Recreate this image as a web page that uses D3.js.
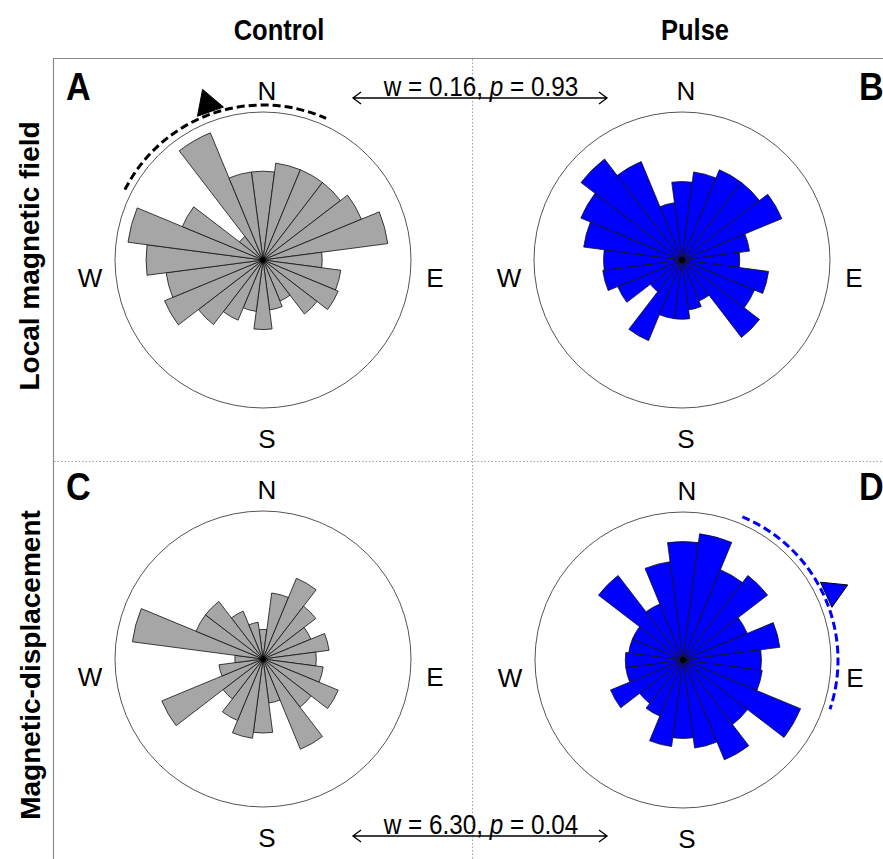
<!DOCTYPE html>
<html>
<head>
<meta charset="utf-8">
<script src="https://d3js.org/d3.v7.min.js"></script>
<style>
  body { margin: 0; background: #fff; }
  text { fill: #000; }
</style>
</head>
<body>
<script>
// ---- data ----
// bin centres in degrees, clockwise from north (15 degree bins)
var binAngles = [0, 15, 30, 45, 60, 75, 90, 105, 120, 135, 150, 165,
                 180, 195, 210, 225, 240, 255, 270, 285, 300, 315, 330, 345];

// bar lengths (% of the outer circle radius), one per bin
var controlLocal = [60, 66, 66, 66, 72, 85, 40, 53, 55, 46, 30, 34,
                    47, 35, 44, 55, 72, 66, 79, 92, 59, 20, 93, 60];
var pulseLocal   = [53, 60, 66, 66, 73, 46, 39, 59, 53, 66, 30, 34,
                    40, 40, 59, 27, 47, 54, 53, 67, 74, 86, 72, 39];
var controlDisp  = [20, 45, 59, 45, 35, 45, 36, 41, 55, 41, 66, 30,
                    50, 54, 45, 34, 74, 30, 19, 89, 49, 49, 35, 25];
var pulseDisp    = [80, 86, 66, 72, 47, 66, 53, 54, 86, 55, 73, 60,
                    53, 59, 41, 37, 53, 39, 39, 37, 37, 72, 41, 67];

var columnTitles = ["Control", "Pulse"];
var rowTitles = ["Local magnetic field", "Magnetic-displacement"];
var panelLetters = ["A", "B", "C", "D"];
var compass = ["N", "E", "S", "W"];

// mean heading and 95% confidence interval half width (degrees), null = not significant
var meanHeading = [340.5, null, null, 65.5];
var ciHalf = [43.5, null, null, 43];

var statW = ["0.16", "6.30"];
var statP = ["0.93", "0.04"];

// ---- layout ----
var width = 883, height = 859;
var R = 148;
var grey = "#a6a6a6", blue = "#0000ff";

var panels = [
  {values: controlLocal, cx: 263, cy: 260, fill: grey, letter: panelLetters[0], lx: 66, ly: 100, mean: meanHeading[0], ci: ciHalf[0], mark: "#000"},
  {values: pulseLocal,   cx: 682, cy: 260, fill: blue, letter: panelLetters[1], lx: 859, ly: 100, mean: meanHeading[1], ci: ciHalf[1], mark: blue},
  {values: controlDisp,  cx: 263, cy: 659, fill: grey, letter: panelLetters[2], lx: 66, ly: 500, mean: meanHeading[2], ci: ciHalf[2], mark: "#000"},
  {values: pulseDisp,    cx: 683, cy: 660, fill: blue, letter: panelLetters[3], lx: 859, ly: 500, mean: meanHeading[3], ci: ciHalf[3], mark: blue}
];

var svg = d3.select("body").append("svg")
  .attr("width", width)
  .attr("height", height)
  .style("font-family", "'Liberation Sans', Arial, sans-serif");

// frame and dotted separators
svg.append("path")
  .attr("d", "M883,58.5H53.5V859")
  .attr("fill", "none")
  .attr("stroke", "#8c8c8c")
  .attr("stroke-width", 1.2);
svg.append("line")
  .attr("x1", 472.5).attr("x2", 472.5).attr("y1", 59).attr("y2", height)
  .attr("stroke", "#a0a0a0").attr("stroke-dasharray", "1.5,2");
svg.append("line")
  .attr("x1", 54).attr("x2", width).attr("y1", 461.5).attr("y2", 461.5)
  .attr("stroke", "#a0a0a0").attr("stroke-dasharray", "1.5,2");

// column and row titles (squeezed a little to look like the condensed original)
svg.selectAll(".coltitle")
  .data(columnTitles)
  .enter().append("text")
  .attr("class", "coltitle")
  .attr("transform", function(d, i) {
    return "translate(" + (i == 0 ? 279 : 695) + ",40) scale(0.88,1)";
  })
  .attr("text-anchor", "middle")
  .style("font-weight", "bold")
  .style("font-size", "29px")
  .text(function(d) { return d; });

svg.selectAll(".rowtitle")
  .data(rowTitles)
  .enter().append("text")
  .attr("class", "rowtitle")
  .attr("transform", function(d, i) {
    return i == 0 ? "translate(39,256) rotate(-90)" : "translate(40,665) rotate(-90)";
  })
  .attr("text-anchor", "middle")
  .style("font-weight", "bold")
  .style("font-size", function(d, i) { return i == 0 ? "28px" : "28px"; })
  .text(function(d) { return d; });

var rScale = d3.scaleLinear().domain([0, 100]).range([0, R]);
var half = 7.5 * Math.PI / 180;
var rad = function(deg) { return deg * Math.PI / 180; };

var arc = d3.arc()
  .innerRadius(0)
  .outerRadius(function(d) { return rScale(d.v); })
  .startAngle(function(d) { return rad(d.a) - half; })
  .endAngle(function(d) { return rad(d.a) + half; });

panels.forEach(function(p) {
  var g = svg.append("g").attr("transform", "translate(" + p.cx + "," + p.cy + ")");

  g.append("circle")
    .attr("r", R)
    .attr("fill", "none")
    .attr("stroke", "#555")
    .attr("stroke-width", 1);

  var bins = binAngles.map(function(a, i) { return {a: a, v: p.values[i]}; });
  g.selectAll("path.bar")
    .data(bins)
    .enter().append("path")
    .attr("class", "bar")
    .attr("d", arc)
    .attr("fill", p.fill)
    .attr("stroke", "#111")
    .attr("stroke-width", 0.8)
    .attr("stroke-linejoin", "round");

  g.append("circle").attr("r", 3).attr("fill", "#000");

  // compass labels
  var pos = {N: [4, -160], E: [172, 27], S: [4, 188], W: [-173, 27]};
  g.selectAll("text.cmp")
    .data(compass)
    .enter().append("text")
    .attr("class", "cmp")
    .attr("x", function(d) { return pos[d][0]; })
    .attr("y", function(d) { return pos[d][1]; })
    .attr("text-anchor", "middle")
    .style("font-size", "26px")
    .text(function(d) { return d; });

  // mean vector with confidence arc
  if (p.mean !== null) {
    var ra = 155;
    var ci = d3.path();
    ci.arc(0, 0, ra, rad(p.mean - p.ci - 90), rad(p.mean + p.ci - 90));
    g.append("path")
      .attr("d", ci.toString())
      .attr("fill", "none")
      .attr("stroke", p.mark)
      .attr("stroke-width", 3)
      .attr("stroke-dasharray", "8,4");

    var pt = function(deg, r) {
      return [r * Math.sin(rad(deg)), -r * Math.cos(rad(deg))];
    };
    var tri = [pt(p.mean - 5, 158), pt(p.mean, 181), pt(p.mean + 5, 158)];
    g.append("path")
      .attr("d", d3.line()(tri) + "Z")
      .attr("fill", p.mark)
      .attr("stroke", "#000")
      .attr("stroke-width", 1);
  }

  // panel letter
  svg.append("text")
    .attr("transform", "translate(" + p.lx + "," + p.ly + ") scale(0.9,1)")
    .style("font-weight", "bold")
    .style("font-size", "38px")
    .text(p.letter);
});

// statistics between the two treatment columns
var statY = [96, 834];
statY.forEach(function(y, i) {
  var t = svg.append("text")
    .attr("transform", "translate(481," + y + ") scale(0.9,1)")
    .attr("text-anchor", "middle")
    .style("font-size", "27px");
  t.append("tspan").text("w = " + statW[i] + ", ");
  t.append("tspan").style("font-style", "italic").text("p");
  t.append("tspan").text(" = " + statP[i]);

  var ly = y + 2;
  svg.append("path")
    .attr("d", "M353," + ly + "H607" +
               "M361," + (ly - 6) + "L353," + ly + "L361," + (ly + 6) +
               "M599," + (ly - 6) + "L607," + ly + "L599," + (ly + 6))
    .attr("fill", "none")
    .attr("stroke", "#000")
    .attr("stroke-width", 1.3);
});
</script>
</body>
</html>
